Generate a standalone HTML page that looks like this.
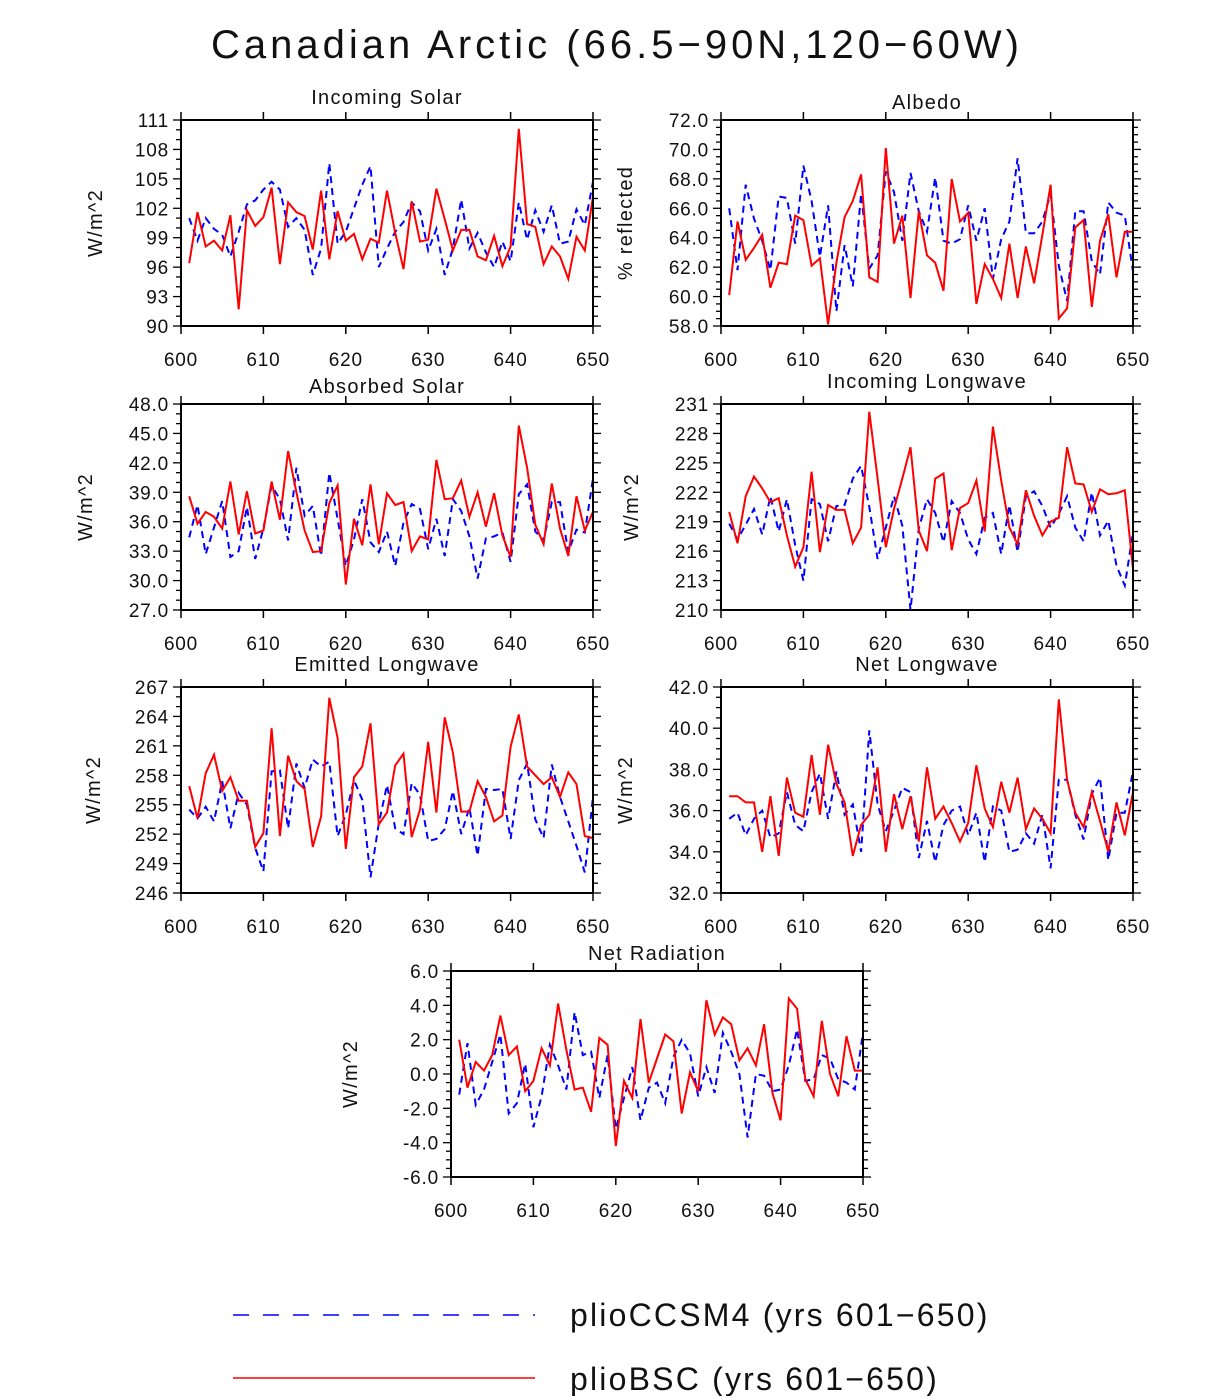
<!DOCTYPE html>
<html><head><meta charset="utf-8"><style>
html,body{margin:0;padding:0;background:#fff;}
svg{display:block;font-family:"Liberation Sans",sans-serif;}
</style></head><body>
<svg id="fig" width="1224" height="1396" viewBox="0 0 1224 1396">
<text x="617" y="58" text-anchor="middle" font-size="40" letter-spacing="4" fill="#111">Canadian Arctic (66.5−90N,120−60W)</text>
<g>
<line x1="233" y1="1315" x2="535" y2="1315" stroke="#0000ff" stroke-width="1.5" stroke-dasharray="16,14"/>
<text x="570" y="1326" font-size="32" letter-spacing="2.2" fill="#111">plioCCSM4 (yrs 601−650)</text>
<line x1="233" y1="1378" x2="535" y2="1378" stroke="#ff0000" stroke-width="1.5"/>
<text x="570" y="1390" font-size="32" letter-spacing="2.2" fill="#111">plioBSC (yrs 601−650)</text>
</g>
</svg>
<script>
const years = Array.from({length:50},(_,i)=>601+i);
const xTicks = [600,610,620,630,640,650];

const solarRed = [96.4,101.6,98.1,98.7,97.7,101.3,91.7,101.8,100.2,101.1,104.1,96.3,102.6,101.6,101.2,97.8,103.8,96.8,101.7,98.7,99.4,96.8,98.9,98.5,103.8,99.5,95.8,102.7,98.6,98.8,104.0,100.9,97.7,99.8,99.8,97.1,96.7,99.2,96.1,98.1,110.1,100.4,100.1,96.3,98.1,97.1,94.8,99.1,97.7,103.2];
const solarBlue = [101.0,98.7,101.0,99.9,99.3,97.1,99.6,102.4,102.8,103.9,104.7,103.9,100.1,101.0,99.8,95.2,97.9,106.6,98.4,99.6,102.0,104.4,106.3,96.0,97.9,99.6,100.6,102.6,101.7,97.7,99.9,95.2,97.9,102.9,97.9,99.5,97.5,96.0,98.6,96.6,102.6,98.8,101.8,99.6,102.3,98.4,98.6,101.9,100.3,104.7];
const solarTicks = [90,93,96,99,102,105,108,111];

const albedoRed = [60.1,65.1,62.5,63.3,64.2,60.6,62.3,62.2,65.5,65.2,62.1,62.6,58.1,62.3,65.4,66.5,68.3,61.3,61.0,70.1,63.6,65.5,59.9,65.8,62.8,62.3,60.4,68.0,65.1,65.7,59.5,62.2,61.2,59.9,63.6,59.9,63.4,60.9,64.2,67.6,58.5,59.2,64.7,65.2,59.3,63.8,65.6,61.3,64.4,64.4];
const albedoBlue = [66.0,61.8,67.6,65.3,63.8,61.8,66.8,66.7,63.6,68.9,66.5,62.7,66.2,59.0,63.5,60.7,67.0,61.9,62.8,68.5,67.1,63.8,68.4,65.8,64.4,68.1,63.8,63.6,63.9,66.2,63.8,66.0,61.2,63.9,65.1,69.4,64.3,64.3,65.1,67.0,62.1,59.7,65.8,65.8,62.4,61.5,66.4,65.7,65.5,61.7];
const albedoTicks = [58,60,62,64,66,68,70,72];

const absRed = [38.6,35.8,37.0,36.5,35.3,40.1,34.7,39.1,34.8,35.1,40.1,36.2,43.2,39.0,35.1,32.9,33.0,37.9,39.7,29.6,36.3,33.6,39.8,33.7,38.9,37.7,38.0,33.0,34.5,34.2,42.3,38.3,38.4,40.2,36.5,39.0,35.5,38.9,34.6,32.4,45.8,41.5,35.7,33.7,39.9,35.3,32.5,38.6,35.1,37.0];
const absBlue = [34.4,37.7,32.7,35.4,38.1,32.4,33.0,37.5,32.2,35.3,39.7,38.3,34.1,41.5,36.6,37.6,32.5,41.0,36.3,31.5,34.2,38.3,33.9,32.9,35.0,31.5,35.9,37.8,37.3,33.2,36.3,32.5,38.3,37.1,34.5,30.2,34.3,34.5,34.9,31.9,38.8,39.8,35.0,34.1,38.0,38.0,32.9,35.2,34.9,40.4];
const absTicks = [27,30,33,36,39,42,45,48];

const inLwRed = [220.0,216.8,221.6,223.6,222.4,221.0,221.4,217.6,214.4,216.4,224.1,215.9,220.7,220.2,220.2,216.8,218.4,230.2,223.4,216.4,220.3,223.4,226.6,218.1,216.0,223.4,223.9,216.1,220.4,220.9,223.2,218.0,228.7,223.2,218.4,216.7,222.2,219.6,217.6,219.0,219.4,226.6,222.9,222.8,220.0,222.3,221.8,221.9,222.2,214.2];
const inLwBlue = [218.8,217.2,218.7,220.3,217.7,221.6,218.0,221.3,216.6,213.0,221.3,220.8,217.0,220.6,220.7,223.4,224.7,220.5,215.2,218.4,221.6,218.6,210.0,218.3,221.3,219.9,216.9,221.1,219.9,217.2,215.7,219.4,219.9,215.7,220.7,215.9,221.6,222.1,220.6,218.4,219.8,221.6,218.4,217.0,222.0,217.6,219.1,214.5,212.5,217.9];
const inLwTicks = [210,213,216,219,222,225,228,231];

const emRed = [256.9,253.6,258.2,260.1,256.4,257.8,255.4,255.4,250.7,252.1,262.8,251.8,260.0,257.4,256.6,250.7,253.8,265.9,261.8,250.5,257.8,258.9,263.3,253.0,254.2,259.0,260.2,251.7,254.5,261.4,254.2,263.9,260.3,254.3,254.3,257.4,255.8,253.3,253.9,260.9,264.2,258.9,258.0,257.1,257.8,255.8,258.3,257.1,251.8,251.6];
const emBlue = [254.5,253.6,254.8,253.3,257.4,252.6,256.2,255.0,250.6,248.2,258.4,258.5,252.6,259.2,256.7,259.6,258.9,259.4,251.8,254.0,257.5,255.5,247.6,253.1,257.0,252.6,252.0,257.2,256.0,251.3,251.5,252.5,256.4,252.0,254.7,249.8,256.6,256.5,256.6,251.5,257.5,259.2,253.5,251.6,259.1,255.8,253.3,250.8,248.1,255.8];
const emTicks = [246,249,252,255,258,261,264,267];

const netLwRed = [36.7,36.7,36.4,36.4,34.0,36.7,33.8,37.6,35.9,35.7,38.7,35.8,39.2,37.3,36.4,33.8,35.3,35.8,38.1,34.0,36.8,35.1,36.7,34.5,38.1,35.6,36.2,35.4,34.5,35.4,38.2,36.1,35.2,37.4,35.9,37.6,35.1,36.1,35.6,34.9,41.4,37.5,35.9,35.2,36.9,35.5,34.0,36.4,34.8,36.9];
const netLwBlue = [35.6,35.9,34.8,35.6,36.0,34.7,34.9,36.9,35.3,35.0,36.9,37.8,35.6,37.9,35.8,36.3,34.0,39.9,36.3,35.0,36.0,37.1,36.9,33.7,35.5,33.5,35.3,36.0,36.2,34.8,35.9,33.5,36.2,36.0,34.0,34.1,34.9,34.4,35.8,33.2,37.5,37.5,35.8,34.6,36.8,37.6,33.6,35.9,35.9,37.9];
const netLwTicks = [32,34,36,38,40,42];

const netRadRed = [2.0,-0.8,0.7,0.2,1.1,3.4,1.1,1.6,-1.0,-0.4,1.5,0.5,4.1,1.4,-0.9,-0.8,-2.2,2.1,1.7,-4.2,-0.4,-1.4,3.2,-0.5,0.9,2.3,1.9,-2.3,0.1,-1.0,4.3,2.3,3.3,2.9,0.8,1.5,0.5,2.9,-1.1,-2.7,4.4,3.8,-0.3,-1.3,3.1,0.0,-1.3,2.2,0.2,0.2];
const netRadBlue = [-1.2,1.8,-1.8,-0.9,0.7,2.3,-2.3,-1.7,0.6,-3.1,-1.3,1.7,0.5,-0.9,3.6,1.1,1.3,-1.4,1.1,-3.2,-1.4,0.4,-2.7,-0.8,-0.5,-1.7,1.0,2.0,1.2,-1.3,0.4,-1.1,2.4,1.3,0.0,-3.7,0.0,-0.1,-1.0,-0.9,0.5,2.6,-0.4,-0.3,1.1,0.9,-0.3,-0.5,-0.9,2.4];
const netRadTicks = [-6,-4,-2,0,2,4,6];

const NS='http://www.w3.org/2000/svg';
const svg=document.getElementById('fig');
function mk(tag,attrs,parent){const e=document.createElementNS(NS,tag);for(const k in attrs)e.setAttribute(k,attrs[k]);(parent||svg).appendChild(e);return e;}

function panel(o){
  const g=mk('g',{});
  
  
  const x0=o.x,x1=o.x+412,y0=o.y,y1=o.y+206;
  const ymin=o.ticks[0],ymax=o.ticks[o.ticks.length-1];
  const sx=v=>x0+(v-600)/50*(x1-x0);
  const sy=v=>y1-(v-ymin)/(ymax-ymin)*(y1-y0);
  for(let v=ymin;v<=ymax+1e-9;v+=o.minor){
    const major=o.ticks.some(t=>Math.abs(t-v)<1e-6);
    const L=major?8:5;
    mk('line',{x1:x0-L,x2:x0,y1:sy(v),y2:sy(v),stroke:'#000','stroke-width':1.3},g);
    mk('line',{x1:x1,x2:x1+L,y1:sy(v),y2:sy(v),stroke:'#000','stroke-width':1.3},g);
  }
  o.ticks.forEach(t=>{
    const tx=mk('text',{x:x0-12,y:sy(t)+7,'text-anchor':'end','font-size':19,'letter-spacing':0.8,fill:'#111'},g);
    tx.textContent=o.dec?t.toFixed(1):String(t);
    
    
  });
  xTicks.forEach(t=>{
    mk('line',{x1:sx(t),x2:sx(t),y1:y1,y2:y1+8,stroke:'#000','stroke-width':1.5},g);
    mk('line',{x1:sx(t),x2:sx(t),y1:y0-8,y2:y0,stroke:'#000','stroke-width':1.5},g);
    const tx=mk('text',{x:sx(t),y:y1+40,'text-anchor':'middle','font-size':19,'letter-spacing':0.8,fill:'#111'},g);
    tx.textContent=String(t);
    
    
  });
  function line(vals,color,dash,nm){
    const pts=vals.map((v,i)=>sx(years[i]).toFixed(1)+','+sy(v).toFixed(1)).join(' ');
    const p=mk('polyline',{points:pts,fill:'none',stroke:color,'stroke-width':2,'stroke-linejoin':'miter'},g);
    if(dash)p.setAttribute('stroke-dasharray',dash);
    
    
  }
  line(o.blue,'#0000ff','7,5',o.name+'-pliocsm4-line');
  line(o.red,'#ff0000',null,o.name+'-pliobsc-line');
  const r=mk('rect',{x:x0,y:y0,width:x1-x0,height:y1-y0,fill:'none',stroke:'#000','stroke-width':2},g);
  
  
  const tt=mk('text',{x:(x0+x1)/2,y:o.ty,'text-anchor':'middle','font-size':20,'letter-spacing':1.3,fill:'#111'},g);
  tt.textContent=o.title;
  
  
  const yt=mk('text',{x:0,y:0,'text-anchor':'middle','font-size':20,'letter-spacing':1.3,fill:'#111',transform:'translate('+o.ytx+','+((y0+y1)/2)+') rotate(-90)'},g);
  yt.textContent=o.ylabel;
  
  
}
panel({name:'incoming-solar',x:181,y:120,ticks:solarTicks,minor:1,red:solarRed,blue:solarBlue,title:'Incoming Solar',ty:104,ylabel:'W/m^2',ytx:102});
panel({name:'albedo',x:721,y:120,ticks:albedoTicks,minor:0.5,dec:true,red:albedoRed,blue:albedoBlue,title:'Albedo',ty:109,ylabel:'% reflected',ytx:632});
panel({name:'absorbed-solar',x:181,y:404,ticks:absTicks,minor:1,dec:true,red:absRed,blue:absBlue,title:'Absorbed Solar',ty:393,ylabel:'W/m^2',ytx:92});
panel({name:'incoming-longwave',x:721,y:404,ticks:inLwTicks,minor:1,red:inLwRed,blue:inLwBlue,title:'Incoming Longwave',ty:388,ylabel:'W/m^2',ytx:638});
panel({name:'emitted-longwave',x:181,y:687,ticks:emTicks,minor:1,red:emRed,blue:emBlue,title:'Emitted Longwave',ty:671,ylabel:'W/m^2',ytx:100});
panel({name:'net-longwave',x:721,y:687,ticks:netLwTicks,minor:0.5,dec:true,red:netLwRed,blue:netLwBlue,title:'Net Longwave',ty:671,ylabel:'W/m^2',ytx:632});
panel({name:'net-radiation',x:451,y:971,ticks:netRadTicks,minor:0.5,dec:true,red:netRadRed,blue:netRadBlue,title:'Net Radiation',ty:960,ylabel:'W/m^2',ytx:357});
</script>
</body></html>
